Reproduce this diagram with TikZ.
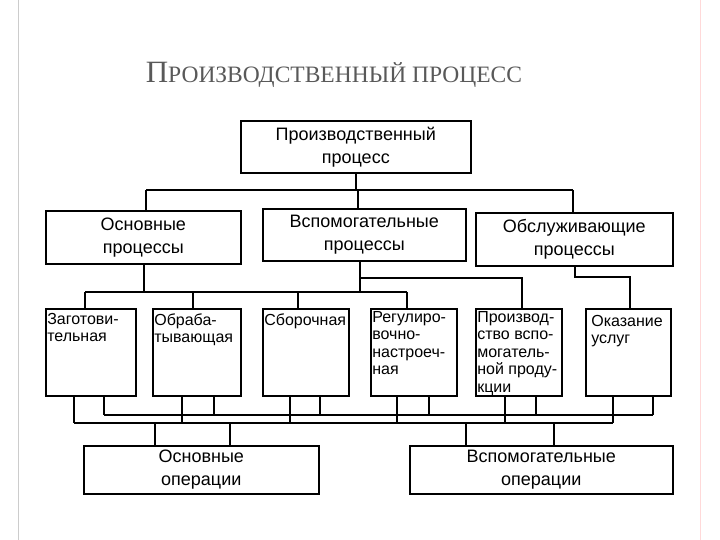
\documentclass[tikz,border=0pt]{standalone}
\usepackage{fontspec}
\setmainfont{Liberation Sans}
\newfontfamily\titlefont{Liberation Serif}
\begin{document}
\begin{tikzpicture}[x=1pt,y=-1pt,line width=1.6pt,
  box/.style={draw,anchor=north west,inner sep=0pt,align=center,font=\fontsize{18}{23}\selectfont},
  sbox/.style={draw,anchor=north west,inner sep=0pt},
  tl/.style={anchor=north west,inner sep=1.5pt,yshift=-3,align=left,font=\fontsize{16}{17.5}\selectfont}]
\useasboundingbox (0,0) rectangle (720,540);
\draw[line width=0.8pt,black!20] (18,0) -- (18,540);
\draw[line width=0.8pt,red!15] (700,0) -- (700,540);
\node[anchor=west,text=black!65,inner sep=0pt] (title) at (145,75) {\titlefont\fontsize{31}{33}\selectfont П\fontsize{23.5}{33}\selectfont РОИЗВОДСТВЕННЫЙ ПРОЦЕСС};
% top
\node[box,minimum width=230,minimum height=52] (top) at (240,120) {Производственный\\процесс};
\node[box,minimum width=195,minimum height=53] (m1) at (45,210) {Основные\\процессы};
\node[box,minimum width=203,minimum height=52] (m2) at (262,208) {Вспомогательные\\процессы};
\node[box,minimum width=197,minimum height=53] (m3) at (475,212) {Обслуживающие\\процессы};
% row 3
\node[sbox,minimum width=90,minimum height=87] (r1) at (45,308) {};
\node[tl] at (r1.north west) {Заготови-\\тельная};
\node[sbox,minimum width=88,minimum height=87] (r2) at (152,308) {};
\node[tl] at (r2.north west) {Обраба-\\тывающая};
\node[sbox,minimum width=86,minimum height=87] (r3) at (262,308) {};
\node[tl] at (r3.north west) {Сборочная};
\node[sbox,minimum width=86,minimum height=87] (r4) at (370,308) {};
\node[tl,yshift=2] at (r4.north west) {Регулиро-\\вочно-\\настроеч-\\ная};
\node[sbox,minimum width=86,minimum height=87] (r5) at (475,308) {};
\node[tl,yshift=2] at (r5.north west) {Производ-\\ство вспо-\\могатель-\\ной проду-\\кции};
\node[sbox,minimum width=85,minimum height=87] (r6) at (585,308) {};
\node[tl] at ([xshift=4,yshift=-2]r6.north west) {Оказание\\услуг};
% bottom
\node[box,minimum width=235,minimum height=48] (o1) at (83,445) {Основные\\операции};
\node[box,minimum width=263,minimum height=48] (o2) at (409,445) {Вспомогательные\\операции};
% top bus
\draw (top.south) -- (top.south |- 0,190);
\draw (146,190) -- (573,190);
\draw (146,190) -- (m1.north -| 146,0);
\draw (358,190) -- (m2.north -| 358,0);
\draw (573,190) -- (m3.north -| 573,0);
% row3 bus
\draw (m1.south -| 144,0) -- (144,292);
\draw (85,292) -- (407,292);
\foreach \x in {85,193,298,407} \draw (\x,292) -- (\x,308);
\draw (m2.south -| 360,0) -- (360,292);
\draw (360,278) -- (522,278) -- (r5.north -| 522,0);
\draw (m3.south -| 575,0) -- (575,277) -- (630,277) -- (r6.north -| 630,0);
% lower buses
\draw (74,423) -- (613,423);
\draw (104,415) -- (653,415);
\foreach \x in {74,182,290,397,505,613} \draw (\x,395) -- (\x,423);
\foreach \x in {104,214,320,429,536,653} \draw (\x,395) -- (\x,415);
\foreach \x in {155,230,466,554} \draw (\x,423) -- (\x,445);
\end{tikzpicture}
\end{document}
